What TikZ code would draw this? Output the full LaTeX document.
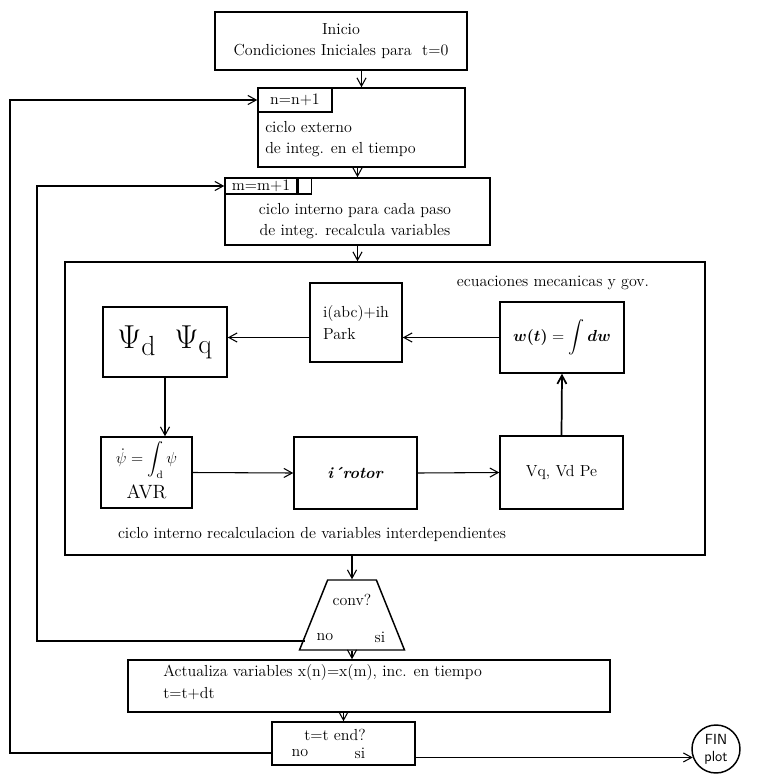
\documentclass[tikz,border=0pt]{standalone}
\usepackage{amsmath}
\usetikzlibrary{arrows.meta,shapes.geometric}

\begin{document}
\begin{tikzpicture}[x=0.75pt,y=-0.75pt,
	font=\fontsize{12}{16}\selectfont,
	box/.style={draw=black,line width=1.1pt,inner sep=2pt},
	sz/.style 2 args={minimum width=#1*0.75pt,minimum height=#2*0.75pt},
	arr/.style={-{Straight Barb[length=2.2mm,width=2.4mm]},line width=0.8pt},
	txt/.style={inner sep=0pt}]
	\useasboundingbox (0,0) rectangle (758,775);
	\node[box,sz={252}{58},align=center] (inicio) at (341,41) {Inicio\\Condiciones Iniciales para\ \ t=0};
	\node[box,sz={207}{79}] (n2) at (361.5,127.5) {};
	\node[box,sz={74}{24},anchor=north west,inner sep=0pt] (nsub) at (n2.north west) {n=n+1};
	\node[txt,anchor=west,align=left] (n2txt) at (265,139) {ciclo externo\\de integ. en el tiempo};
	\node[box,sz={265}{67}] (n3) at (357.5,211.5) {};
	\node[box,sz={72}{16},anchor=north west,inner sep=0pt] (msub) at (n3.north west) {m=m+1};
	\node[box,sz={13}{16},anchor=north west,inner sep=0pt] (mcell) at (msub.north east) {};
	\node[txt,align=center] (n3txt) at (355,221) {ciclo interno para cada paso\\de integ. recalcula variables};
	\node[box,sz={640}{293}] (big) at (385,408.5) {};
	\node[txt] (mecan) at (553,283) {ecuaciones mecanicas y gov.};
	\node[box,sz={124}{70}] (psi) at (165,342) {\Huge$\Psi_{\mathrm d}\;\;\Psi_{\mathrm q}$};
	\node[box,sz={92}{79},align=left] (park) at (356,322.5) {i(abc)+ih\\Park};
	\node[box,sz={124}{71}] (wt) at (562,337.5) {\large$\boldsymbol{w(t)} = \displaystyle\int \boldsymbol{dw}$};
	\node[box,sz={91}{71},inner sep=0pt] (avr) at (146.5,472.5) {};
	\node[txt] (avreq) at (146.5,460) {\large$\dot{\psi}=\displaystyle\int_{\mathrm d}\psi$};
	\node[txt] (avrtxt) at (146.5,492) {\Large AVR};
	\node[box,sz={123}{72}] (rotor) at (355.5,473) {\textbf{\textit{i\'{}rotor}}};
	\node[box,sz={123}{73}] (vq) at (561.5,472.5) {Vq, Vd Pe};
	\node[txt] (recalc) at (312,534) {ciclo interno recalculacion de variables interdependientes};
	\node[draw,line width=1.1pt,trapezium,trapezium angle=60,trapezium stretches=true,
		sz={105}{70},inner sep=2pt] (conv) at (352,615) {};
	\node[txt] (convq) at (352,600) {conv?};
	\node[txt] (convno) at (325,637) {no};
	\node[txt] (convsi) at (380,637) {si};
	\node[box,sz={482}{52}] (act) at (369,686) {};
	\node[txt,anchor=west,align=left] (acttxt) at (163,682) {Actualiza variables x(n)=x(m), inc. en tiempo\\t=t+dt};
	\node[box,sz={143}{43}] (tend) at (343.5,743.5) {};
	\node[txt] (tendq) at (335,735) {t=t end?};
	\node[txt] (tendno) at (300,753) {no};
	\node[txt] (tendsi) at (360,753) {si};
	\node[draw,circle,line width=1.1pt,sz={48}{48},inner sep=0pt,align=center,
		font=\sffamily\fontsize{11}{13}\selectfont] (fin) at (716,749) {FIN\\plot};
	\coordinate (noexit) at (305,641);
	\coordinate (leftin) at (37,0);
	\coordinate (leftout) at (10,0);
	\draw[arr] (inicio.south -| n2.north) -- (n2.north);
	\draw[arr] (n2.south -| n3.north) -- (n3.north);
	\draw[arr] (n3.south) -- (n3.south |- big.north);
	\draw[arr] (wt.west) -- (park.east |- wt.west);
	\draw[arr] (park.west |- wt.west) -- (psi.east |- wt.west);
	\draw[arr] (psi.south) -- (psi.south |- avr.north);
	\draw[arr] (avr.east) -- (rotor.west);
	\draw[arr] (rotor.east) -- (vq.west);
	\draw[arr,line width=1.3pt] (vq.north) -- (wt.south);
	\draw[arr] (big.south -| conv.north) -- (conv.north);
	\draw[arr] (conv.south) -- (conv.south |- act.north);
	\draw[arr] (act.south -| tend.north) -- (tend.north);
	\draw[arr] (noexit) -| (leftin |- msub.west) -- (msub.west);
	\draw[arr] (tend.west |- tendno) -| (leftout |- nsub.west) -- (nsub.west);
	\draw[arr] (tend.east |- fin.200) -- (fin.200);
\end{tikzpicture}
\end{document}
